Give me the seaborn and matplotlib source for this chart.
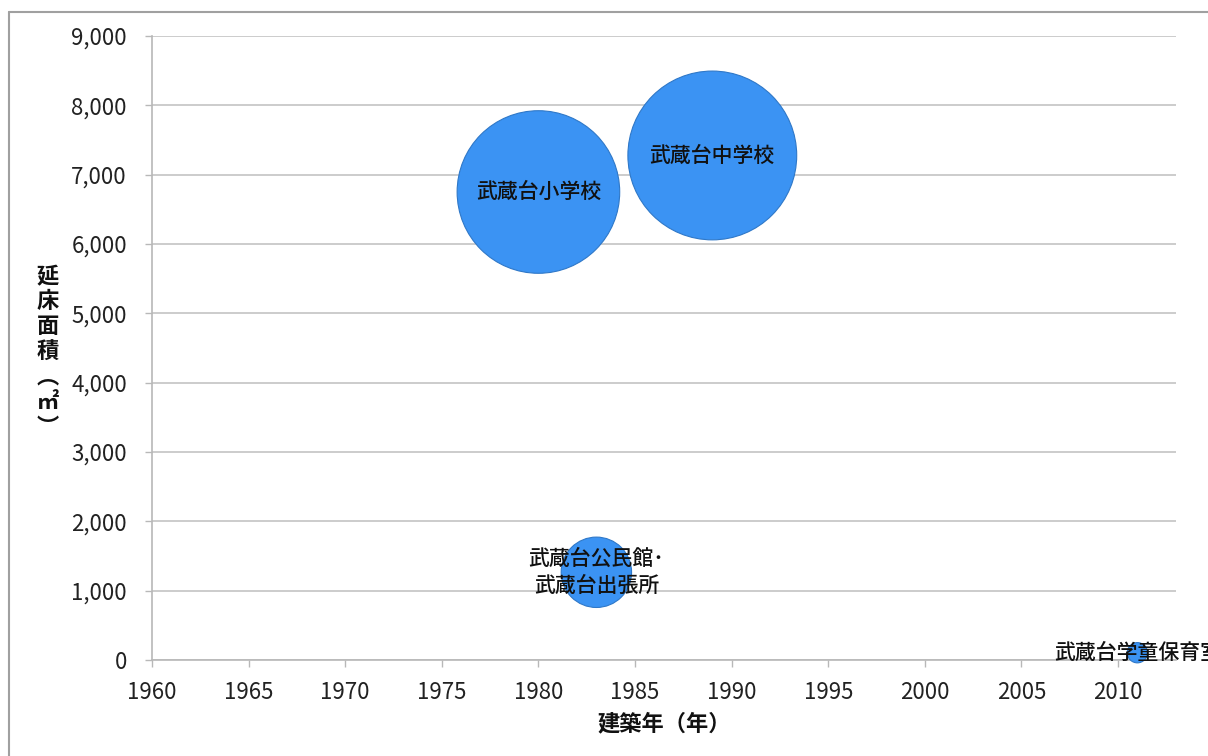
import matplotlib
matplotlib.use("Agg")
import matplotlib.pyplot as plt
from matplotlib.lines import Line2D
from matplotlib.ticker import FuncFormatter
import seaborn as sns
import pandas as pd

# Facilities: year built, total floor area (m²); bubble size = floor area
facilities = ["武蔵台小学校", "武蔵台中学校", "武蔵台公民館･\n武蔵台出張所", "武蔵台学童保育室"]
years_built = [1980, 1989, 1983, 2011]
floor_area = [6750, 7277, 1265, 105]

x_ticks = list(range(1960, 2011, 5))
y_ticks = list(range(0, 9001, 1000))

df = pd.DataFrame({"name": facilities, "year": years_built, "area": floor_area})

sns.set_theme(style="white")
plt.rcParams["font.family"] = ["Noto Sans CJK JP", "DejaVu Sans"]

fig = plt.figure(figsize=(12.08, 7.56), dpi=100)
ax = fig.add_axes([152 / 1208, 1 - 660 / 756, (1176 - 152) / 1208, (660 - 36) / 756])

bubble_color = "#3b93f3"
max_area = max(floor_area)
s_max = (2 * 84.4 * 0.72) ** 2  # point² for the largest bubble
sns.scatterplot(
    data=df, x="year", y="area", size="area",
    sizes=(0, s_max), size_norm=(0, max_area),
    color=bubble_color, edgecolor="#2f78c8", linewidth=0.8,
    alpha=1.0, legend=False, ax=ax, zorder=3, clip_on=False,
)

# labels centred on each bubble
for name, yr, a in zip(facilities, years_built, floor_area):
    ax.text(yr, a, name, ha="center", va="center", fontsize=15,
            color="#111111", zorder=4, clip_on=False, linespacing=1.3,
            fontweight="medium")

ax.set_xlim(1960, 2013)
ax.set_ylim(0, 9000)
ax.set_xticks(x_ticks)
ax.set_yticks(y_ticks)
ax.yaxis.set_major_formatter(FuncFormatter(lambda v, p: f"{int(v):,}"))
ax.grid(axis="y", color="#c4c4c4", linewidth=1.2, zorder=0)
ax.grid(axis="x", visible=False)

for side in ["top", "right"]:
    ax.spines[side].set_visible(False)
for side in ["left", "bottom"]:
    ax.spines[side].set_color("#b8b8b8")
    ax.spines[side].set_linewidth(1.2)

ax.tick_params(axis="both", which="major", direction="out", length=5,
               width=1.0, color="#b8b8b8", labelsize=16,
               labelcolor="#222222", left=True, bottom=True)
ax.tick_params(axis="y", pad=13)
ax.tick_params(axis="x", pad=10)

ax.set_xlabel("建築年（年）", fontsize=16, fontweight="bold", labelpad=6,
              color="#111111")
ax.set_ylabel("")

# vertical stacked y-axis title
fig.text(48 / 1208, 1 - 352 / 756, "\n".join("延床面積︵㎡︶"),
         ha="center", va="center", fontsize=16, fontweight="bold",
         linespacing=1.12, color="#111111")

# outer frame (left and top edges)
fig.add_artist(Line2D([8.5 / 1208, 8.5 / 1208], [0, 1 - 12 / 756],
                      transform=fig.transFigure, color="#a0a0a0", linewidth=1.5))
fig.add_artist(Line2D([8.5 / 1208, 1], [1 - 12 / 756, 1 - 12 / 756],
                      transform=fig.transFigure, color="#a0a0a0", linewidth=1.5))

fig.savefig("out.png", dpi=100)
